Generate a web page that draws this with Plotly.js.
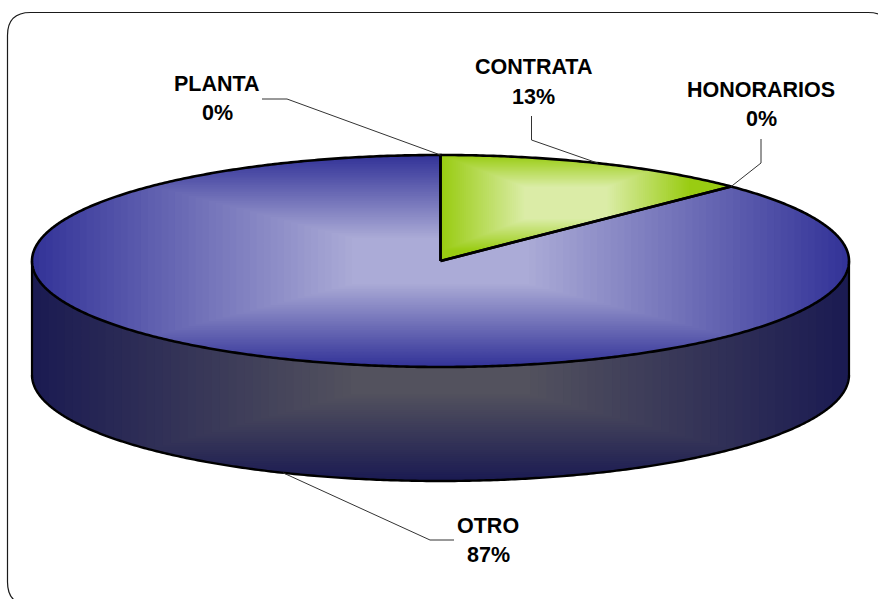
<!DOCTYPE html>
<html>
<head>
<meta charset="utf-8">
<script src="https://cdn.plot.ly/plotly-3.0.1.min.js"></script>
<style>html,body{margin:0;padding:0;background:#fff;overflow:hidden}</style>
</head>
<body>
<div id="chart" style="width:878px;height:599px"></div>
<script>
// ---- data ----
var categories = ['PLANTA', 'CONTRATA', 'HONORARIOS', 'OTRO'];
var values = [0, 12.6, 0, 87.4];

// ---- styling / geometry ----
var W = 878, H = 599;
var cx = 440.5, cy = 261, rx = 408.5, ry = 106, depth = 114;
var sliceStyles = {
  OTRO:     {edge: [51, 51, 152], mid: [174, 174, 216], gc: [440.5, 261], gh: [408.5, 106], plateau: 0.2},
  CONTRATA: {edge: [153, 204, 18], mid: [220, 237, 170], gc: [566, 203], gh: [125, 48], plateau: 0.32}
};
var sideEdge = [27, 27, 82], sideMid = [84, 83, 94], sidePlateau = 0.2;
var labelPos = {
  PLANTA:     {x: 217, y1: 84, y2: 113, elbow: [287, 99], end: [262, 99]},
  CONTRATA:   {x: 533, y1: 67, y2: 97, elbow: [531.5, 140], end: [531.5, 116]},
  HONORARIOS: {x: 761, y1: 90, y2: 119, elbow: [761, 163], end: [761, 139]},
  OTRO:       {x: 488, y1: 526, y2: 555, elbow: [430, 540], end: [454, 540]}
};
var FONT = {family: '"Liberation Sans", Arial, sans-serif', size: 21.5, color: '#000'};

function pt(deg, dy) {
  var a = deg * Math.PI / 180;
  return [cx + rx * Math.sin(a), cy - ry * Math.cos(a) + (dy || 0)];
}
function arc(a0, a1, dy) {
  var out = [], n = Math.max(2, Math.ceil(Math.abs(a1 - a0) * 2));
  for (var i = 0; i <= n; i++) out.push(pt(a0 + (a1 - a0) * i / n, dy));
  return out;
}
function clipEdge(poly, inside, cross) {
  var out = [];
  for (var i = 0; i < poly.length; i++) {
    var p = poly[i], q = poly[(i + 1) % poly.length];
    var pi = inside(p), qi = inside(q);
    if (pi) out.push(p);
    if (pi !== qi) out.push(cross(p, q));
  }
  return out;
}
function clipRect(poly, x0, y0, x1, y1) {
  function onX(v) { return function (p, q) { var t = (v - p[0]) / (q[0] - p[0]); return [v, p[1] + t * (q[1] - p[1])]; }; }
  function onY(v) { return function (p, q) { var t = (v - p[1]) / (q[1] - p[1]); return [p[0] + t * (q[0] - p[0]), v]; }; }
  var r = clipEdge(poly, function (p) { return p[0] >= x0; }, onX(x0));
  if (r.length) r = clipEdge(r, function (p) { return p[0] <= x1; }, onX(x1));
  if (r.length) r = clipEdge(r, function (p) { return p[1] >= y0; }, onY(y0));
  if (r.length) r = clipEdge(r, function (p) { return p[1] <= y1; }, onY(y1));
  return r;
}
function mix(a, b, t, plateau) {
  var e = Math.max(0, (t - plateau) / (1 - plateau));
  return 'rgb(' + [0, 1, 2].map(function (i) { return Math.round(b[i] + (a[i] - b[i]) * e); }).join(',') + ')';
}
var traces = [];
function fillPoly(poly, color) {
  var c = poly.concat([poly[0]]);
  traces.push({
    type: 'scatter', mode: 'lines', fill: 'toself', fillcolor: color,
    x: c.map(function (p) { return p[0]; }), y: c.map(function (p) { return p[1]; }),
    line: {width: 0, color: color}, hoverinfo: 'skip', showlegend: false
  });
}
function stroke(pts, color, width) {
  traces.push({
    type: 'scatter', mode: 'lines',
    x: pts.map(function (p) { return p[0]; }), y: pts.map(function (p) { return p[1]; }),
    line: {width: width, color: color, simplify: false}, hoverinfo: 'skip', showlegend: false
  });
}
function gradient(poly, edge, mid, c, h, plateau, steps) {
  fillPoly(poly, mix(edge, mid, 1, plateau));
  for (var i = 1; i < steps; i++) {
    var t = 1 - i / steps;
    if (t < plateau) break;
    var r = clipRect(poly, c[0] - h[0] * t, c[1] - h[1] * t, c[0] + h[0] * t, c[1] + h[1] * t);
    if (r.length > 2) fillPoly(r, mix(edge, mid, t, plateau));
  }
}

// slice angles derived from the values
var total = values.reduce(function (a, b) { return a + b; }, 0), run = 0;
var slices = categories.map(function (name, i) {
  var a0 = run / total * 360; run += values[i];
  return {name: name, a0: a0, a1: run / total * 360, value: values[i]};
});

// side wall
var wallPoly = arc(270, 90, 0).concat(arc(90, 270, depth));
gradient(wallPoly, sideEdge, sideMid, [cx, cy + 109], [rx, 111], sidePlateau, 50);

// top faces
slices.forEach(function (s) {
  if (s.value <= 0) return;
  var st = sliceStyles[s.name];
  var poly = [[cx, cy]].concat(arc(s.a0, s.a1));
  gradient(poly, st.edge, st.mid, st.gc, st.gh, st.plateau, 60);
});

// outlines
stroke([pt(270), pt(270, depth)], '#000', 2.2);
stroke(arc(90, 270, depth), '#000', 2.4);
stroke([pt(90), pt(90, depth)], '#000', 2.2);
slices.forEach(function (s) {
  if (s.value <= 0) return;
  var ring = [[cx, cy]].concat(arc(s.a0, s.a1)).concat([[cx, cy]]);
  stroke(ring, '#000', 2.6);
});

// leader lines and labels
var annotations = [];
slices.forEach(function (s) {
  var p = labelPos[s.name], mid = (s.a0 + s.a1) / 2;
  var front = mid > 90 && mid < 270;
  stroke([pt(mid, front ? depth : 0), p.elbow, p.end], '#333', 1);
  annotations.push({x: p.x, y: p.y1, text: '<b>' + s.name + '</b>', showarrow: false, font: FONT, xanchor: 'center', yanchor: 'middle'});
  annotations.push({x: p.x, y: p.y2, text: '<b>' + Math.round(s.value / total * 100) + '%</b>', showarrow: false, font: FONT, xanchor: 'center', yanchor: 'middle'});
});

var layout = {
  width: W, height: H,
  margin: {l: 0, r: 0, t: 0, b: 0, pad: 0},
  paper_bgcolor: '#fff', plot_bgcolor: '#fff',
  showlegend: false,
  xaxis: {range: [0, W], visible: false, fixedrange: true},
  yaxis: {range: [H, 0], visible: false, fixedrange: true},
  annotations: annotations,
  shapes: [{
    type: 'path', xref: 'x', yref: 'y', layer: 'below',
    path: 'M 30.5 12.5 L 868 12.5 Q 891 12.5 891 35.5 L 891 582 Q 891 605 868 605 L 30.5 605 Q 7.5 605 7.5 582 L 7.5 35.5 Q 7.5 12.5 30.5 12.5 Z',
    line: {color: '#1a1a1a', width: 1.2}, fillcolor: 'rgba(0,0,0,0)'
  }]
};
Plotly.newPlot('chart', traces, layout, {displayModeBar: false, staticPlot: true});
</script>
</body>
</html>
